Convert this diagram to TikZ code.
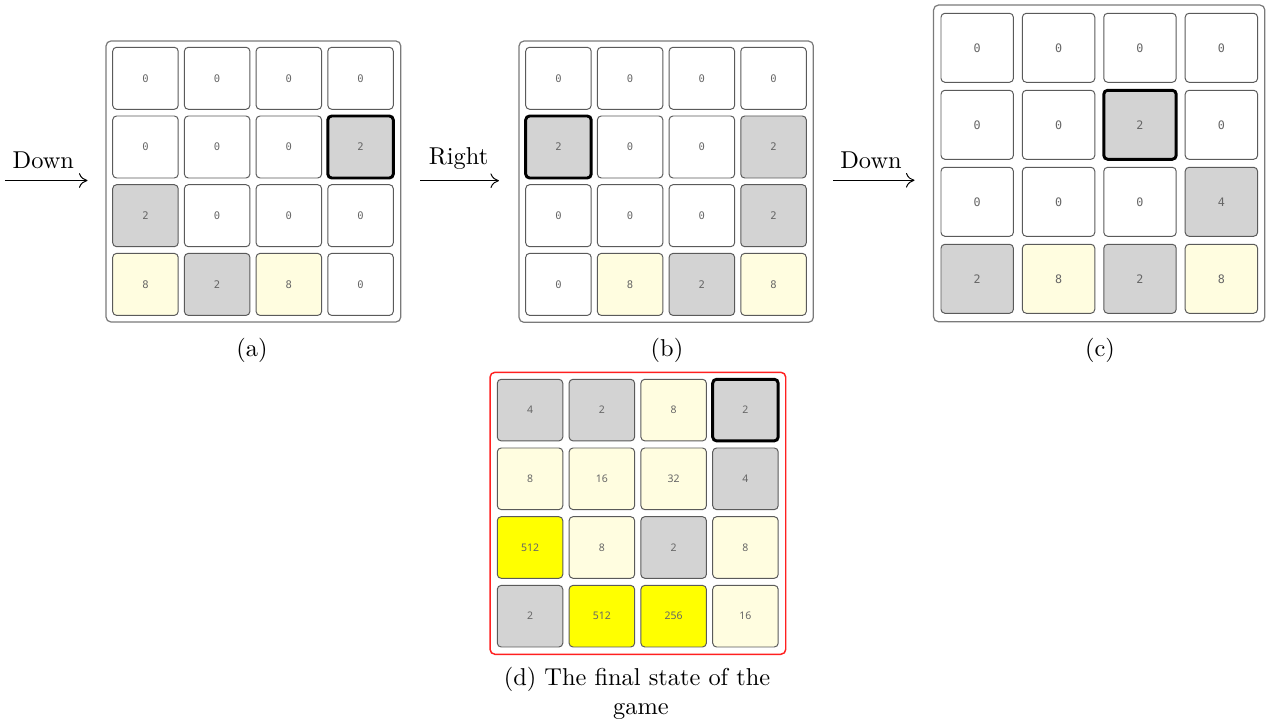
\documentclass[tikz,border=0pt]{standalone}
\usepackage{fontspec}
\newfontfamily\monof{DejaVu Sans Mono}
\newfontfamily\sansf{Noto Sans}
\usetikzlibrary{arrows.meta}
\definecolor{tg}{HTML}{D3D3D3}
\definecolor{ty}{HTML}{FFFDE0}
\definecolor{tY}{HTML}{FFFF00}
\definecolor{tline}{HTML}{5A5A5A}
\definecolor{ttext}{HTML}{666666}
\definecolor{fr}{HTML}{7A7A7A}
\definecolor{fred}{HTML}{FF2020}
\newcommand\tilegrid[9]{%
  \foreach [count=\i from 0] \f/\t/\s in {#9} {
    \pgfmathtruncatemacro\cc{mod(\i,4)}
    \pgfmathtruncatemacro\rr{div(\i,4)}
    \node[tile, fill=\f, \s, minimum width={#6*0.41pt}, minimum height={#7*0.41pt}, font={#8}]
      (#1\i) at ({#2+\cc*#4+#6/2},{#3+\rr*#5+#7/2}) {\t};
  }}
\begin{document}
\begin{tikzpicture}[x=0.41pt,y=-0.41pt,
  tile/.style={draw=tline, line width=0.4pt, rounded corners=1.6pt, inner sep=0pt, text=ttext},
  tilehl/.style={draw=black, line width=1.2pt},
  tileno/.style={},
  frame/.style={draw=fr, line width=0.5pt, rounded corners=2pt, inner sep=0pt, fill=white},
  move/.style={line width=0.4pt, -{Computer Modern Rightarrow[length=3.5pt,width=6pt]}},
  lab/.style={anchor=base, inner sep=0pt}]
\useasboundingbox (0,0) rectangle (1266,724);

% ---- frames
\node[frame, minimum width={294.7*0.41pt}, minimum height={281*0.41pt}] (gridA) at (253.4,181.5) {};
\node[frame, minimum width={294.3*0.41pt}, minimum height={281.3*0.41pt}] (gridB) at (666.2,181.7) {};
\node[frame, minimum width={331.2*0.41pt}, minimum height={316.7*0.41pt}] (gridC) at (1099.2,163.4) {};
\node[frame, draw=fred, line width=0.6pt, minimum width={295.7*0.41pt}, minimum height={282*0.41pt}] (gridD) at (637.9,513.3) {};

% ---- tiles
\tilegrid{a}{112.7}{47.3}{71.7}{68.7}{65.5}{62}{\monof\fontsize{4.3}{5}\selectfont}{
  white/0/tileno, white/0/tileno, white/0/tileno, white/0/tileno,
  white/0/tileno, white/0/tileno, white/0/tileno, tg/2/tilehl,
  tg/2/tileno, white/0/tileno, white/0/tileno, white/0/tileno,
  ty/8/tileno, tg/2/tileno, ty/8/tileno, white/0/tileno}
\tilegrid{b}{525.7}{47.3}{71.7}{68.7}{65.5}{62}{\monof\fontsize{4.3}{5}\selectfont}{
  white/0/tileno, white/0/tileno, white/0/tileno, white/0/tileno,
  tg/2/tilehl, white/0/tileno, white/0/tileno, tg/2/tileno,
  white/0/tileno, white/0/tileno, white/0/tileno, tg/2/tileno,
  white/0/tileno, ty/8/tileno, tg/2/tileno, ty/8/tileno}
\tilegrid{c}{941}{13.3}{81.4}{77}{72.4}{69}{\monof\fontsize{4.8}{5.5}\selectfont}{
  white/0/tileno, white/0/tileno, white/0/tileno, white/0/tileno,
  white/0/tileno, white/0/tileno, tg/2/tilehl, white/0/tileno,
  white/0/tileno, white/0/tileno, white/0/tileno, tg/4/tileno,
  tg/2/tileno, ty/8/tileno, tg/2/tileno, ty/8/tileno}
\tilegrid{d}{497.3}{379.3}{71.8}{68.7}{65.5}{61.6}{\sansf\fontsize{4.3}{5}\selectfont}{
  tg/4/tileno, tg/2/tileno, ty/8/tileno, tg/2/tilehl,
  ty/8/tileno, ty/16/tileno, ty/32/tileno, tg/4/tileno,
  tY/512/tileno, ty/8/tileno, tg/2/tileno, ty/8/tileno,
  tg/2/tileno, tY/512/tileno, tY/256/tileno, ty/16/tileno}

% ---- moves
\coordinate (m1s) at (5,180.5);   \coordinate (m1e) at (87.5,180.5);
\coordinate (m2s) at (420,180.7); \coordinate (m2e) at (499,180.7);
\coordinate (m3s) at (833,180.3); \coordinate (m3e) at (914.5,180.3);
\draw[move] (m1s) -- (m1e);
\draw[move] (m2s) -- (m2e);
\draw[move] (m3s) -- (m3e);
\node[lab] (l1) at (43.3,169) {Down};
\node[lab] (l2) at (458.6,165) {Right};
\node[lab] (l3) at (871,168.5) {Down};

% ---- captions
\node[lab] (ca) at (252,357) {(a)};
\node[lab] (cb) at (667,357) {(b)};
\node[lab] (cc) at (1100,357) {(c)};
\node[lab] (cd1) at (637,686) {(d) The final state of the};
\node[lab] (cd2) at (641,715) {game};
\end{tikzpicture}
\end{document}
